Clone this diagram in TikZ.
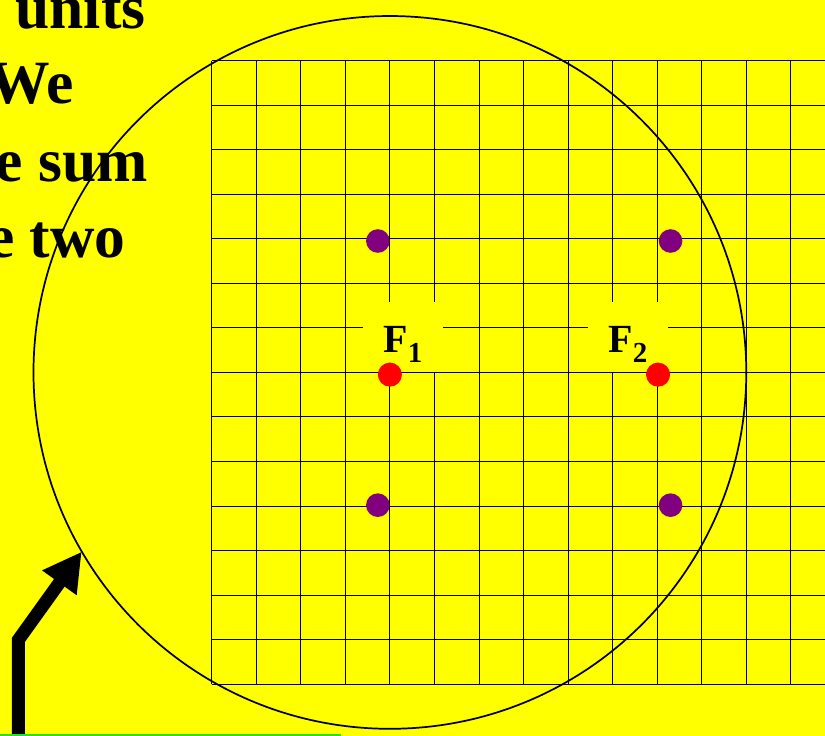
\documentclass[tikz,border=0pt]{standalone}
\usepackage{fontspec}
\setmainfont{Liberation Serif}
\usetikzlibrary{arrows.meta}
\definecolor{slideyellow}{HTML}{FFFF00}
\definecolor{focusred}{HTML}{FF0000}
\definecolor{pointpurple}{HTML}{800080}
\definecolor{edgegreen}{HTML}{1EE61E}

\begin{document}
\begin{tikzpicture}[font=\bfseries,
  gridline/.style={black, line width=0.6pt},
  focuslabel/.style={fill=slideyellow, inner sep=0pt, minimum width=1.8cm,
    minimum height=1.57cm, text height=0.97cm, text depth=0.3cm,
    font=\fontsize{25.5}{25.5}\selectfont\bfseries},
  focusdot/.style={circle, fill=focusred, inner sep=0pt, minimum size=0.54cm},
  pointdot/.style={circle, fill=pointpurple, inner sep=0pt, minimum size=0.53cm},
  slidetext/.style={anchor=base east, inner sep=0pt,
    font=\fontsize{39.3}{47}\selectfont\bfseries}]
  % Page and background
  \useasboundingbox (-4.752,-1.160) rectangle (13.767,15.360);
  \clip (-4.752,-1.160) rectangle (13.767,15.360);
  \fill[slideyellow] (-4.752,-1.160) rectangle (13.767,15.360);

  % Text cut at the left edge
  \node[slidetext] (txtunits) at (-1.48,14.725) {units};
  \node[slidetext] (txtwe) at (-3.09,13.04) {We};
  \node[slidetext] (txtsum) at (-1.43,11.28) {e sum};
  \node[slidetext] (txttwo) at (-1.93,9.576) {e two};

  % Grid
  \draw[gridline] (0,0) grid (14,14);

  % Circle round F1
  \draw[black, line width=1.1pt] (4,7) circle (8);

  % Focus labels
  \node[focuslabel] (labf1) at (4.295,7.785) {F\raisebox{-6.4pt}{\fontsize{18.5}{18.5}\selectfont 1}};
  \node[focuslabel] (labf2) at (9.345,7.785) {F\raisebox{-6.4pt}{\fontsize{18.5}{18.5}\selectfont 2}};

  % Foci
  \node[focusdot] (f1) at (4,6.95) {};
  \node[focusdot] (f2) at (10.02,6.95) {};

  % Points
  \node[pointdot] (ptul) at (3.73,9.95) {};
  \node[pointdot] (ptur) at (10.3,9.95) {};
  \node[pointdot] (ptll) at (3.73,4.02) {};
  \node[pointdot] (ptlr) at (10.3,4.02) {};

  % Arrow to the circle
  \coordinate (arrowfoot) at (-4.341,-1.6);
  \coordinate (arrowbend) at (-4.341,0.994);
  \coordinate (arrowtip) at (-2.918,2.976);
  \draw[line width=8.3pt, -{Triangle[length=8.6mm,width=8.9mm]}]
    (arrowfoot) -- (arrowbend) -- (arrowtip);

  % Green edge at the bottom
  \draw[edgegreen, line width=1pt] (-4.752,-1.145) -- (2.896,-1.145);
\end{tikzpicture}
\end{document}
